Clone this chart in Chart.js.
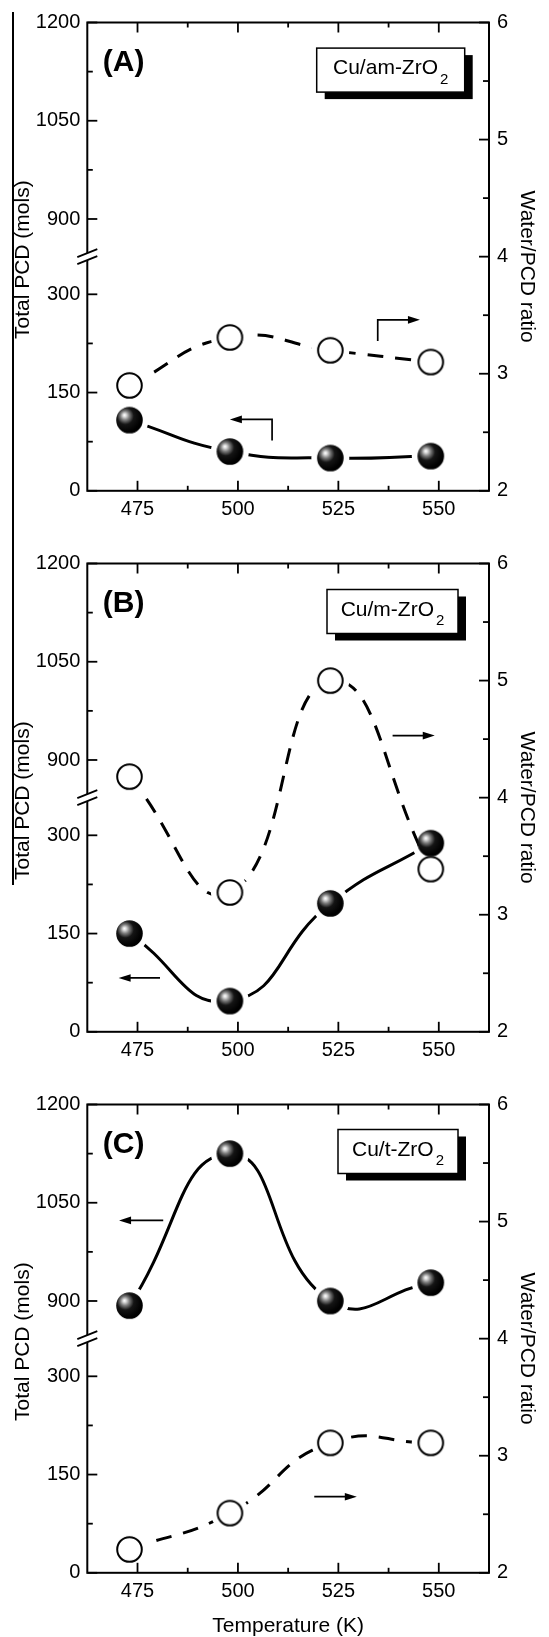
<!DOCTYPE html>
<html>
<head>
<meta charset="utf-8">
<title>Total PCD and Water/PCD ratio vs temperature</title>
<script src="https://cdn.jsdelivr.net/npm/chart.js@4.4.1/dist/chart.umd.min.js"></script>
<style>
  html, body { margin:0; padding:0; background:#ffffff; }
  body { position:relative; width:549px; height:1637px; overflow:hidden; }
  canvas { position:absolute; left:0; display:block; }
  #edge { position:absolute; left:12px; top:12px; width:2px; height:873px; background:#000; }
</style>
</head>
<body>
<div id="edge"></div>
<canvas id="panelA" width="549" height="541" style="top:0px"></canvas>
<canvas id="panelB" width="549" height="541" style="top:541px"></canvas>
<canvas id="panelC" width="549" height="555" style="top:1082px"></canvas>
<script>
// ---------------- data ----------------
const temperatures = [473, 498, 523, 548];          // K
const pcdA   = [108, 60, 50, 53];                    // Total PCD (mols), Cu/am-ZrO2
const ratioA = [2.90, 3.31, 3.20, 3.10];             // Water/PCD ratio, Cu/am-ZrO2
const pcdB   = [150, 47, 196, 288];                  // Cu/m-ZrO2
const ratioB = [4.18, 3.19, 5.00, 3.39];
const pcdC   = [893, 1125, 900, 928];                // Cu/t-ZrO2
const ratioC = [2.20, 2.51, 3.11, 3.11];

const xMajorTicks  = [475, 500, 525, 550];
const xMinorTicks  = [487.5, 512.5, 537.5];
const pcdLowMajor  = [0, 150, 300];
const pcdLowMinor  = [75, 225];
const pcdHighMajor = [900, 1050, 1200];
const pcdHighMinor = [975, 1125];
const ratioMajor   = [2, 3, 4, 5, 6];
const ratioMinor   = [2.5, 3.5, 4.5, 5.5];

const xRange       = [462.5, 562.5];
const pcdLowRange  = [0, 357.5];
const pcdHighRange = [842.5, 1200];
const ratioRange   = [2, 6];

const panelLetters = ['(A)', '(B)', '(C)'];
const sampleNames  = ['Cu/am-ZrO', 'Cu/m-ZrO', 'Cu/t-ZrO'];
const sampleSub    = '2';
const xTitle       = 'Temperature (K)';
const yLeftTitle   = 'Total PCD (mols)';
const yRightTitle  = 'Water/PCD ratio';

// ---------------- layout / style ----------------
const FONT = '"Liberation Sans", Arial, Helvetica, sans-serif';
const PLOT_LEFT = 87.3, PLOT_RIGHT = 489, PLOT_TOP = 22.5, PLOT_H = 468.3;
const GAP = 19;       // gap of the curves around the markers
const TENSION = 0.5;

const panels = [
  { id:'panelA', pcd:pcdA, ratio:ratioA, letter:0, name:0, showX:false,
    box:{dx:229.4, dy:25.6, w:148, h:44},
    arrows:[ [[534.8,3.28],[534.8,3.46],[545.3,3.46]], [[508.5,2.43],[508.5,2.61],[498.0,2.61]] ] },
  { id:'panelB', pcd:pcdB, ratio:ratioB, letter:1, name:1, showX:false,
    box:{dx:239.7, dy:26.0, w:131, h:44},
    arrows:[ [[538.5,4.53],[549.0,4.53]], [[480.6,2.46],[470.3,2.46]] ] },
  { id:'panelC', pcd:pcdC, ratio:ratioC, letter:2, name:2, showX:true,
    box:{dx:250.7, dy:25.0, w:120, h:44},
    arrows:[ [[481.4,5.01],[470.4,5.01]], [[519.0,2.65],[529.6,2.65]] ] }
];

// ---------------- marker images ----------------
function makeSphere(r) {
  const size = Math.ceil(r * 2) + 4;
  const c = document.createElement('canvas'); c.width = size; c.height = size;
  const g = c.getContext('2d'); const cx = size / 2, cy = size / 2;
  const grad = g.createRadialGradient(cx - r * 0.38, cy - r * 0.38, 0, cx - r * 0.25, cy - r * 0.25, r * 1.15);
  grad.addColorStop(0, '#ffffff');
  grad.addColorStop(0.10, '#e0e0e0');
  grad.addColorStop(0.30, '#7a7a7a');
  grad.addColorStop(0.55, '#151515');
  grad.addColorStop(1, '#000000');
  g.fillStyle = grad; g.beginPath(); g.arc(cx, cy, r, 0, Math.PI * 2); g.fill();
  return c;
}
function makeRing(r) {
  const size = Math.ceil(r * 2) + 4;
  const c = document.createElement('canvas'); c.width = size; c.height = size;
  const g = c.getContext('2d'); const cx = size / 2, cy = size / 2;
  g.fillStyle = '#ffffff'; g.strokeStyle = '#000000'; g.lineWidth = 2;
  g.beginPath(); g.arc(cx, cy, r - 1, 0, Math.PI * 2); g.fill(); g.stroke();
  return c;
}
const sphereImg = makeSphere(13.3);
const ringImg = makeRing(13.3);

// ---------------- decoration plugin ----------------
function decorPlugin(P) {
  return {
    id: 'decor' + P.id,
    beforeDatasetDraw(chart, args) {
      const ds = chart.data.datasets[args.index];
      if (!ds.gapLine) return;
      const ctx = chart.ctx;
      ctx.save();
      ctx.beginPath();
      ctx.rect(0, 0, chart.width, chart.height);
      args.meta.data.forEach(p => { ctx.moveTo(p.x + GAP, p.y); ctx.arc(p.x, p.y, GAP, 0, Math.PI * 2); });
      ctx.clip('evenodd');
    },
    afterDatasetDraw(chart, args) {
      if (chart.data.datasets[args.index].gapLine) chart.ctx.restore();
    },
    afterDraw(chart) {
      const ctx = chart.ctx, a = chart.chartArea;
      const xs = chart.scales.x, yl = chart.scales.yLow, yh = chart.scales.yHigh, yr = chart.scales.y2;
      ctx.save();
      ctx.strokeStyle = '#000'; ctx.fillStyle = '#000'; ctx.lineCap = 'butt';
      const seg = (x1, y1, x2, y2) => { ctx.beginPath(); ctx.moveTo(x1, y1); ctx.lineTo(x2, y2); ctx.stroke(); };
      ctx.lineWidth = 1.8;
      xMajorTicks.forEach(v => { const x = xs.getPixelForValue(v); seg(x, a.bottom, x, a.bottom - 10); seg(x, a.top, x, a.top + 10); });
      xMinorTicks.forEach(v => { const x = xs.getPixelForValue(v); seg(x, a.bottom, x, a.bottom - 5); seg(x, a.top, x, a.top + 5); });
      pcdLowMajor.forEach(v => { const y = yl.getPixelForValue(v); seg(a.left, y, a.left + 10, y); });
      pcdLowMinor.forEach(v => { const y = yl.getPixelForValue(v); seg(a.left, y, a.left + 5.5, y); });
      pcdHighMajor.forEach(v => { const y = yh.getPixelForValue(v); seg(a.left, y, a.left + 10, y); });
      pcdHighMinor.forEach(v => { const y = yh.getPixelForValue(v); seg(a.left, y, a.left + 5.5, y); });
      ratioMajor.forEach(v => { const y = yr.getPixelForValue(v); seg(a.right, y, a.right - 10, y); });
      ratioMinor.forEach(v => { const y = yr.getPixelForValue(v); seg(a.right, y, a.right - 6, y); });

      // frame
      ctx.lineWidth = 2;
      ctx.strokeRect(a.left, a.top, a.right - a.left, a.bottom - a.top);

      // axis break marks
      const by = yl.getPixelForValue(pcdLowRange[1]);
      const ax = a.left;
      ctx.fillStyle = '#fff';
      ctx.beginPath();
      ctx.moveTo(ax - 3, by - 2.3 ); ctx.lineTo(ax + 3, by - 4.7);
      ctx.lineTo(ax + 3, by + 2.3); ctx.lineTo(ax - 3, by + 4.7); ctx.closePath(); ctx.fill();
      ctx.lineWidth = 1.8;
      seg(ax - 10, by + 0.5, ax + 10, by - 7.5);
      seg(ax - 10, by + 7.5, ax + 10, by - 0.5);

      // arrows
      ctx.fillStyle = '#000'; ctx.lineWidth = 1.7;
      P.arrows.forEach(path => {
        const pts = path.map(([t, r]) => [xs.getPixelForValue(t), yr.getPixelForValue(r)]);
        const n = pts.length;
        const [x1, y1] = pts[n - 2], [x2, y2] = pts[n - 1];
        const len = Math.hypot(x2 - x1, y2 - y1), ux = (x2 - x1) / len, uy = (y2 - y1) / len;
        const hl = 12, hw = 3.8;
        ctx.beginPath(); ctx.moveTo(pts[0][0], pts[0][1]);
        for (let i = 1; i < n - 1; i++) ctx.lineTo(pts[i][0], pts[i][1]);
        ctx.lineTo(x2 - ux * hl * 0.8, y2 - uy * hl * 0.8); ctx.stroke();
        ctx.beginPath(); ctx.moveTo(x2, y2);
        ctx.lineTo(x2 - ux * hl - uy * hw, y2 - uy * hl + ux * hw);
        ctx.lineTo(x2 - ux * hl + uy * hw, y2 - uy * hl - ux * hw);
        ctx.closePath(); ctx.fill();
      });

      // panel letter
      ctx.fillStyle = '#000';
      ctx.textAlign = 'left'; ctx.textBaseline = 'alphabetic';
      ctx.font = 'bold 30px ' + FONT;
      ctx.fillText(panelLetters[P.letter], a.left + 15.5, a.top + 48.4);

      // sample box with shadow
      const bx = a.left + P.box.dx, byy = a.top + P.box.dy, bw = P.box.w, bh = P.box.h;
      ctx.fillStyle = '#000'; ctx.fillRect(bx + 8, byy + 7, bw, bh);
      ctx.fillStyle = '#fff'; ctx.fillRect(bx, byy, bw, bh);
      ctx.lineWidth = 1.5; ctx.strokeRect(bx, byy, bw, bh);
      const name = sampleNames[P.name];
      ctx.font = '21px ' + FONT; const w1 = ctx.measureText(name).width;
      ctx.font = '15px ' + FONT; const w2 = ctx.measureText(sampleSub).width;
      const tx = bx + (bw - (w1 + 2 + w2)) / 2;
      ctx.fillStyle = '#000';
      ctx.font = '21px ' + FONT; ctx.fillText(name, tx, byy + 26);
      ctx.font = '15px ' + FONT; ctx.fillText(sampleSub, tx + w1 + 2, byy + 35.5);

      // axis titles
      const cy = (a.top + a.bottom) / 2;
      ctx.font = '21px ' + FONT; ctx.textAlign = 'center'; ctx.textBaseline = 'middle';
      ctx.save(); ctx.translate(23, cy + 3); ctx.rotate(-Math.PI / 2); ctx.fillText(yLeftTitle, 0, 0); ctx.restore();
      ctx.save(); ctx.translate(527, cy + 10); ctx.rotate(Math.PI / 2); ctx.fillText(yRightTitle, 0, 0); ctx.restore();
      if (P.showX) {
        ctx.textBaseline = 'alphabetic';
        ctx.fillText(xTitle, (a.left + a.right) / 2, a.bottom + 59);
      }
      ctx.restore();
    }
  };
}

// ---------------- charts ----------------
function buildPanel(P) {
  const el = document.getElementById(P.id);
  const H = el.height;
  const onHigh = P.pcd.every(v => v >= pcdHighRange[0]);
  const pcdAxis = onHigh ? 'yHigh' : 'yLow';
  const pts = vals => temperatures.map((t, i) => ({ x: t, y: vals[i] }));
  const tickFont = { family: FONT, size: 20 };
  const hidden = { display: false, drawTicks: false };
  const yTicks = (major, minor) => s => { s.ticks = [...major, ...minor].sort((p, q) => p - q).map(v => ({ value: v })); };
  const yLabel = major => v => major.includes(v) ? String(v) : '';
  return new Chart(el, {
    type: 'line',
    data: {
      datasets: [
        { label: 'Total PCD', data: pts(P.pcd), yAxisID: pcdAxis, showLine: false,
          pointStyle: sphereImg, pointRadius: 13, pointHoverRadius: 13, borderColor: '#000', backgroundColor: '#000' },
        { label: 'Water/PCD ratio', data: pts(P.ratio), yAxisID: 'y2', showLine: false,
          pointStyle: ringImg, pointRadius: 13, pointHoverRadius: 13, borderColor: '#000', backgroundColor: '#fff' },
        { label: 'Total PCD curve', data: pts(P.pcd), yAxisID: pcdAxis, gapLine: true,
          pointRadius: 0, pointHoverRadius: 0, borderColor: '#000', borderWidth: 3, tension: TENSION, fill: false },
        { label: 'Water/PCD ratio curve', data: pts(P.ratio), yAxisID: 'y2', gapLine: true,
          pointRadius: 0, pointHoverRadius: 0, borderColor: '#000', borderWidth: 3, borderDash: [16, 12], tension: TENSION, fill: false }
      ]
    },
    options: {
      responsive: false, animation: false, events: [],
      layout: { padding: { top: PLOT_TOP, right: 0, bottom: 0, left: 0 } },
      plugins: { legend: { display: false }, tooltip: { enabled: false } },
      scales: {
        x: { type: 'linear', position: 'bottom', min: xRange[0], max: xRange[1],
             afterBuildTicks: yTicks(xMajorTicks, xMinorTicks),
             ticks: { autoSkip: false, maxRotation: 0, minRotation: 0, padding: 7, color: '#000', font: tickFont, callback: yLabel(xMajorTicks) },
             grid: hidden, border: { display: false },
             afterFit: s => { s.height = H - PLOT_TOP - PLOT_H; } },
        yLow: { type: 'linear', position: 'left', stack: 'pcd', stackWeight: 1, min: pcdLowRange[0], max: pcdLowRange[1],
             afterBuildTicks: yTicks(pcdLowMajor, pcdLowMinor),
             ticks: { autoSkip: false, padding: 7, color: '#000', font: tickFont, callback: yLabel(pcdLowMajor) },
             grid: hidden, border: { display: false },
             afterFit: s => { s.width = PLOT_LEFT; } },
        yHigh: { type: 'linear', position: 'left', stack: 'pcd', stackWeight: 1, min: pcdHighRange[0], max: pcdHighRange[1],
             afterBuildTicks: yTicks(pcdHighMajor, pcdHighMinor),
             ticks: { autoSkip: false, padding: 7, color: '#000', font: tickFont, callback: yLabel(pcdHighMajor) },
             grid: hidden, border: { display: false },
             afterFit: s => { s.width = PLOT_LEFT; } },
        y2: { type: 'linear', position: 'right', min: ratioRange[0], max: ratioRange[1],
             afterBuildTicks: yTicks(ratioMajor, ratioMinor),
             ticks: { autoSkip: false, padding: 8, color: '#000', font: tickFont, callback: yLabel(ratioMajor) },
             grid: hidden, border: { display: false },
             afterFit: s => { s.width = 549 - PLOT_RIGHT; } }
      }
    },
    plugins: [decorPlugin(P)]
  });
}
panels.forEach(buildPanel);
</script>
</body>
</html>
